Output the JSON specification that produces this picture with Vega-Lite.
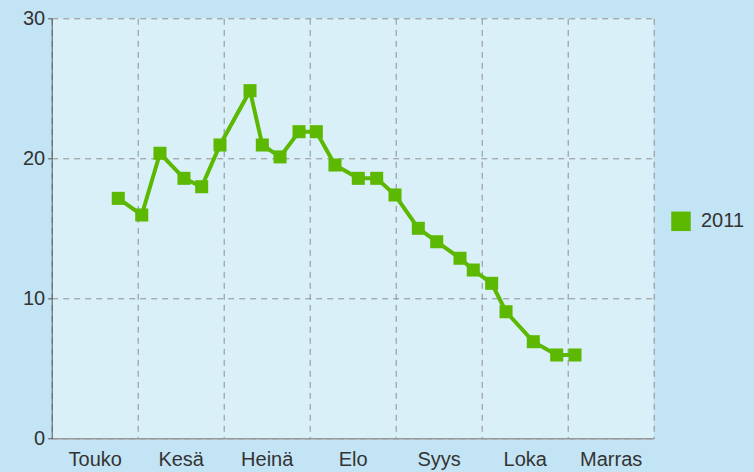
{
  "$schema": "https://vega.github.io/schema/vega-lite/v6.json",
  "width": 602,
  "height": 420,
  "autosize": {"type": "none"},
  "padding": {"left": 51.7, "top": 18.3, "right": 100.3, "bottom": 33.7},
  "background": "#c3e4f4",
  "config": {
    "view": {"fill": "#daf0f9", "stroke": null},
    "font": "Liberation Sans",
    "axis": {"labelFont": "Liberation Sans", "labelFontSize": 20, "labelColor": "#333333", "titleFontSize": 0}
  },
  "data": {
    "values": [
      {"t": 0.774, "value": 17.14, "year": "2011"},
      {"t": 1.047, "value": 15.95, "year": "2011"},
      {"t": 1.259, "value": 20.36, "year": "2011"},
      {"t": 1.538, "value": 18.57, "year": "2011"},
      {"t": 1.744, "value": 17.97, "year": "2011"},
      {"t": 1.957, "value": 20.95, "year": "2011"},
      {"t": 2.306, "value": 24.83, "year": "2011"},
      {"t": 2.449, "value": 20.95, "year": "2011"},
      {"t": 2.655, "value": 20.1, "year": "2011"},
      {"t": 2.876, "value": 21.9, "year": "2011"},
      {"t": 3.077, "value": 21.9, "year": "2011"},
      {"t": 3.294, "value": 19.52, "year": "2011"},
      {"t": 3.565, "value": 18.57, "year": "2011"},
      {"t": 3.779, "value": 18.57, "year": "2011"},
      {"t": 3.992, "value": 17.38, "year": "2011"},
      {"t": 4.263, "value": 15.0, "year": "2011"},
      {"t": 4.477, "value": 14.04, "year": "2011"},
      {"t": 4.748, "value": 12.86, "year": "2011"},
      {"t": 4.902, "value": 12.02, "year": "2011"},
      {"t": 5.116, "value": 11.07, "year": "2011"},
      {"t": 5.283, "value": 9.04, "year": "2011"},
      {"t": 5.6, "value": 6.9, "year": "2011"},
      {"t": 5.872, "value": 5.95, "year": "2011"},
      {"t": 6.085, "value": 5.95, "year": "2011"}
    ]
  },
  "resolve": {"axis": {"x": "independent"}},
  "layer": [
    {
      "mark": {"type": "line", "color": "#5cb800", "strokeWidth": 4},
      "encoding": {
        "x": {
          "field": "t", "type": "quantitative",
          "scale": {"domain": [0, 7], "nice": false, "zero": false},
          "axis": {
            "orient": "bottom", "title": null, "values": [0, 1, 2, 3, 4, 5, 6, 7],
            "labels": false, "ticks": false, "grid": true,
            "gridColor": "#8f8f8f", "gridDash": [6, 5], "gridWidth": 1,
            "domain": true, "domainColor": "#999999", "domainWidth": 1.5
          }
        },
        "y": {
          "field": "value", "type": "quantitative",
          "scale": {"domain": [0, 30], "nice": false},
          "axis": {
            "title": null, "values": [0, 10, 20, 30],
            "grid": true, "gridColor": "#8f8f8f", "gridDash": [6, 5], "gridWidth": 1,
            "domainColor": "#555555", "domainWidth": 1,
            "ticks": true, "tickSize": 4, "tickColor": "#555555",
            "labelPadding": 3
          }
        }
      }
    },
    {
      "mark": {"type": "point", "shape": "square", "filled": true, "size": 170, "opacity": 1},
      "encoding": {
        "x": {
          "field": "t", "type": "quantitative",
          "axis": {
            "orient": "bottom", "title": null, "values": [0.5, 1.5, 2.5, 3.5, 4.5, 5.5, 6.5],
            "labelExpr": "['Touko','Kesä','Heinä','Elo','Syys','Loka','Marras'][floor(datum.value)]",
            "grid": false, "ticks": false, "domain": false, "labelPadding": 11, "labelFlush": false
          }
        },
        "y": {"field": "value", "type": "quantitative"},
        "color": {
          "field": "year", "type": "nominal",
          "scale": {"range": ["#5cb800"]},
          "legend": {
            "title": null, "orient": "none", "legendX": 619.3, "legendY": 193,
            "symbolType": "square", "symbolSize": 380, "symbolStrokeWidth": 0,
            "labelFontSize": 20, "labelColor": "#333333", "labelFont": "Liberation Sans",
            "labelOffset": 10, "padding": 0
          }
        }
      }
    }
  ]
}
